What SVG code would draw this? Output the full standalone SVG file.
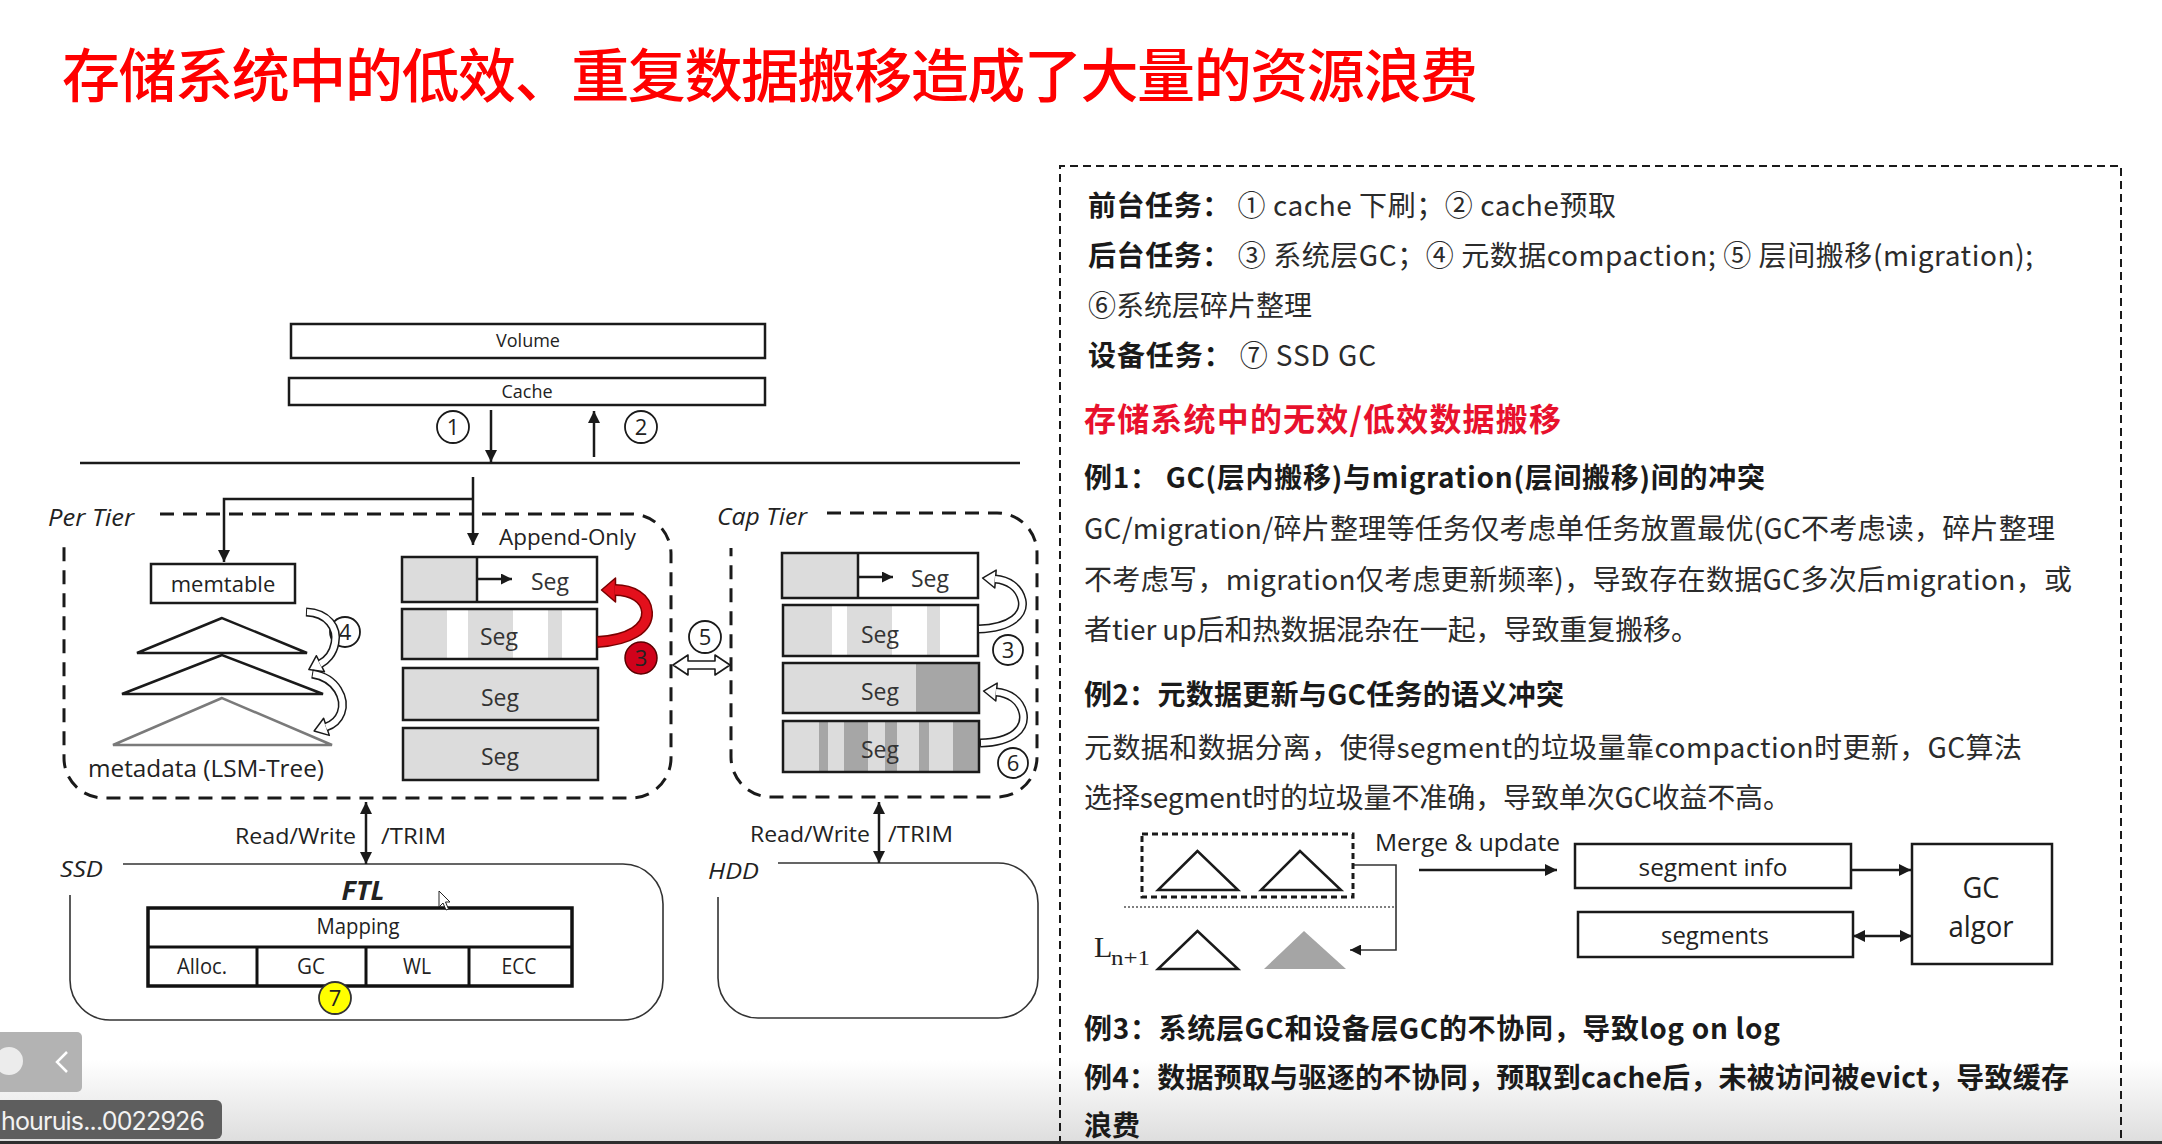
<svg xmlns="http://www.w3.org/2000/svg" width="2162" height="1144" viewBox="0 0 2162 1144">
  <defs>
    <style>
      .ln { fill: none; stroke: #1a1a1a; stroke-width: 2.5; }
      .thin { fill: none; stroke: #333; stroke-width: 1.6; }
      .box { fill: #fff; stroke: #1a1a1a; stroke-width: 2.5; }
      .frame { fill: none; stroke: #1a1a1a; stroke-width: 2.5; }
      .lt { fill: #dcdcdc; }
      .dk { fill: #a6a6a6; }
      .dash { fill: none; stroke: #1a1a1a; stroke-width: 3; stroke-dasharray: 14 9; }
      .circ { fill: #fff; stroke: #1a1a1a; stroke-width: 1.8; }
      .lbl { font-family: "Open Sans", "Liberation Sans", sans-serif; fill: #222; }
      .num { font-family: "Open Sans", "Liberation Sans", sans-serif; font-size: 22px; fill: #222; text-anchor: middle; }
      .seg { font-family: "Open Sans", "Liberation Sans", sans-serif; font-size: 23px; fill: #333; text-anchor: middle; }
      .cn { font-family: "Noto Sans CJK SC", "Noto Sans", sans-serif; font-size: 28px; fill: #2b2b2b; }
      .b { font-weight: bold; fill: #1a1a1a; }
      .hl { font-size: 32px; font-weight: bold; fill: #e8112d; }
      .rib-o { fill: none; stroke: #1a1a1a; stroke-width: 9; }
      .rib-i { fill: none; stroke: #fff; stroke-width: 6; }
    </style>
    <marker id="ah" viewBox="0 0 10 10" refX="10" refY="5" markerWidth="13" markerHeight="12" markerUnits="userSpaceOnUse" orient="auto-start-reverse">
      <path d="M0,0 L10,5 L0,10 z" fill="#1a1a1a"/>
    </marker>
    <marker id="ahs" viewBox="0 0 10 10" refX="10" refY="5" markerWidth="11" markerHeight="11" markerUnits="userSpaceOnUse" orient="auto-start-reverse">
      <path d="M0,0 L10,5 L0,10 z" fill="#1a1a1a"/>
    </marker>
    <marker id="hh" viewBox="0 0 13 18" refX="0.5" refY="9" markerWidth="13" markerHeight="18" markerUnits="userSpaceOnUse" orient="auto" overflow="visible">
      <path d="M0,0 L13,9 L0,18 z" fill="#fff" stroke="#1a1a1a" stroke-width="1.5" stroke-linejoin="round"/>
    </marker>
    <marker id="rh" viewBox="0 0 14 24" refX="0.5" refY="12" markerWidth="14" markerHeight="24" markerUnits="userSpaceOnUse" orient="auto" overflow="visible">
      <path d="M0,0 L14,12 L0,24 z" fill="#e3101c" stroke="#7a0000" stroke-width="1.5" stroke-linejoin="round"/>
    </marker>
    <linearGradient id="fade" x1="0" y1="0" x2="0" y2="1">
      <stop offset="0" stop-color="#ffffff"/>
      <stop offset="1" stop-color="#dedede"/>
    </linearGradient>
  </defs>

  <rect x="0" y="0" width="2162" height="1144" fill="#fff"/>
  <rect x="0" y="1060" width="2162" height="81" fill="url(#fade)"/>

  <!-- heading -->
  <text id="title" x="62" y="97" font-family="Noto Sans CJK SC, sans-serif" font-size="58" font-weight="500" fill="#ff0000" textLength="1416">存储系统中的低效、重复数据搬移造成了大量的资源浪费</text>

  <!-- ===== left: tiered storage stack ===== -->
  <g id="volume">
    <rect class="box" x="291" y="324" width="474" height="34"/>
    <text class="lbl" x="528" y="347" font-size="18" text-anchor="middle">Volume</text>
  </g>
  <g id="cache">
    <rect class="box" x="289" y="378" width="476" height="27"/>
    <text class="lbl" x="527" y="398" font-size="18" text-anchor="middle">Cache</text>
  </g>
  <g id="mark-1">
    <circle class="circ" cx="453" cy="427" r="16"/>
    <text class="num" x="453" y="435">1</text>
  </g>
  <g id="mark-2">
    <circle class="circ" cx="641" cy="427" r="16"/>
    <text class="num" x="641" y="435">2</text>
  </g>

  <g id="per-tier">
    <path class="dash" d="M160,514 H631 A40,40 0 0 1 671,554 V758 A40,40 0 0 1 631,798 H104 A40,40 0 0 1 64,758 V546"/>
    <text class="lbl" x="48" y="526" font-size="23" font-style="italic" textLength="86" lengthAdjust="spacingAndGlyphs">Per Tier</text>
    <text class="lbl" x="499" y="545" font-size="21" textLength="137" lengthAdjust="spacingAndGlyphs">Append-Only</text>
  </g>

  <g id="memtable">
    <rect class="box" x="151" y="564" width="144" height="39"/>
    <text class="lbl" x="223" y="592" font-size="22" text-anchor="middle">memtable</text>
  </g>

  <g id="lsm-tree">
    <polygon points="222,618 137,653 307,653" fill="#fff" stroke="#1a1a1a" stroke-width="2.5"/>
    <polygon points="222,655 122,694 323,694" fill="#fff" stroke="#1a1a1a" stroke-width="2.5"/>
    <polygon points="222,698 113,745 332,745" fill="#fff" stroke="#7a7a7a" stroke-width="2.5"/>
    <text class="lbl" x="88" y="777" font-size="23" textLength="236" lengthAdjust="spacingAndGlyphs">metadata (LSM-Tree)</text>
  </g>

  <g id="mark-4">
    <circle class="circ" cx="345" cy="632" r="15"/>
    <text class="num" x="345" y="640">4</text>
  </g>

  <!-- per tier segments -->
  <g id="pt-seg1">
    <rect class="lt" x="402" y="557" width="75" height="45"/>
    <rect class="frame" x="402" y="557" width="195" height="45"/>
    <line class="ln" x1="477" y1="557" x2="477" y2="602"/>
    <text class="seg" x="550" y="590">Seg</text>
  </g>
  <g id="pt-seg2">
    <rect x="402" y="609" width="195" height="50" fill="#fff"/>
    <rect class="lt" x="402" y="609" width="45" height="50"/>
    <rect class="lt" x="468" y="609" width="45" height="50"/>
    <rect class="lt" x="548" y="609" width="14" height="50"/>
    <rect class="frame" x="402" y="609" width="195" height="50"/>
    <text class="seg" x="499" y="645">Seg</text>
  </g>
  <g id="pt-seg3">
    <rect class="lt" x="403" y="668" width="195" height="52"/>
    <rect class="frame" x="403" y="668" width="195" height="52"/>
    <text class="seg" x="500" y="706">Seg</text>
  </g>
  <g id="pt-seg4">
    <rect class="lt" x="403" y="728" width="195" height="52"/>
    <rect class="frame" x="403" y="728" width="195" height="52"/>
    <text class="seg" x="500" y="765">Seg</text>
  </g>

  <g id="mark-3-red">
    <circle cx="641" cy="658" r="16" fill="#d0021b" stroke="#5a0000" stroke-width="1.5"/>
    <text class="num" x="641" y="666">3</text>
  </g>

  <g id="mark-5">
    <circle class="circ" cx="705" cy="637" r="16"/>
    <text class="num" x="705" y="645">5</text>
  </g>

  <!-- cap tier -->
  <g id="cap-tier">
    <path class="dash" d="M827,513 H997 A40,40 0 0 1 1037,553 V757 A40,40 0 0 1 997,797 H771 A40,40 0 0 1 731,757 V548"/>
    <text class="lbl" x="717" y="525" font-size="23" font-style="italic" textLength="90" lengthAdjust="spacingAndGlyphs">Cap Tier</text>
  </g>
  <g id="ct-seg1">
    <rect class="lt" x="782" y="553" width="76" height="45"/>
    <rect class="frame" x="782" y="553" width="196" height="45"/>
    <line class="ln" x1="858" y1="553" x2="858" y2="598"/>
    <text class="seg" x="930" y="587">Seg</text>
  </g>
  <g id="ct-seg2">
    <rect x="783" y="605" width="195" height="51" fill="#fff"/>
    <rect class="lt" x="783" y="605" width="49" height="51"/>
    <rect class="lt" x="847" y="605" width="45" height="51"/>
    <rect class="lt" x="927" y="605" width="13" height="51"/>
    <rect class="frame" x="783" y="605" width="195" height="51"/>
    <text class="seg" x="880" y="643">Seg</text>
  </g>
  <g id="ct-seg3">
    <rect class="lt" x="783" y="663" width="196" height="50"/>
    <rect class="dk" x="916" y="663" width="63" height="50"/>
    <rect class="frame" x="783" y="663" width="196" height="50"/>
    <text class="seg" x="880" y="700">Seg</text>
  </g>
  <g id="ct-seg4">
    <rect class="lt" x="783" y="721" width="196" height="51"/>
    <rect class="dk" x="819" y="721" width="9" height="51"/>
    <rect class="dk" x="844" y="721" width="24" height="51"/>
    <rect class="dk" x="885" y="721" width="12" height="51"/>
    <rect class="dk" x="919" y="721" width="10" height="51"/>
    <rect class="dk" x="953" y="721" width="26" height="51"/>
    <rect class="frame" x="783" y="721" width="196" height="51"/>
    <text class="seg" x="880" y="758">Seg</text>
  </g>
  <g id="mark-3">
    <circle class="circ" cx="1008" cy="650" r="15"/>
    <text class="num" x="1008" y="658">3</text>
  </g>
  <g id="mark-6">
    <circle class="circ" cx="1013" cy="763" r="15"/>
    <text class="num" x="1013" y="771">6</text>
  </g>

  <!-- I/O labels between tiers and devices -->
  <g id="io-labels">
    <text class="lbl" x="356" y="844" font-size="21" text-anchor="end" textLength="121" lengthAdjust="spacingAndGlyphs">Read/Write</text>
    <text class="lbl" x="381" y="844" font-size="21" textLength="65" lengthAdjust="spacingAndGlyphs">/TRIM</text>
    <text class="lbl" x="870" y="842" font-size="21" text-anchor="end" textLength="120" lengthAdjust="spacingAndGlyphs">Read/Write</text>
    <text class="lbl" x="888" y="842" font-size="21" textLength="65" lengthAdjust="spacingAndGlyphs">/TRIM</text>
  </g>

  <!-- devices -->
  <g id="ssd">
    <path class="thin" stroke-width="2.2" d="M123,864 H623 A40,40 0 0 1 663,904 V980 A40,40 0 0 1 623,1020 H110 A40,40 0 0 1 70,980 V895"/>
    <text class="lbl" x="60" y="877" font-size="22" font-style="italic" textLength="43" lengthAdjust="spacingAndGlyphs">SSD</text>
    <text class="lbl" x="363" y="900" font-size="26" font-weight="bold" font-style="italic" text-anchor="middle" textLength="43" lengthAdjust="spacingAndGlyphs">FTL</text>
  </g>
  <g id="ftl-table">
    <rect x="148" y="908" width="424" height="78" fill="#fff" stroke="#111" stroke-width="3.5"/>
    <line x1="148" y1="947" x2="572" y2="947" stroke="#111" stroke-width="3"/>
    <line x1="257" y1="947" x2="257" y2="986" stroke="#111" stroke-width="3"/>
    <line x1="366" y1="947" x2="366" y2="986" stroke="#111" stroke-width="3"/>
    <line x1="469" y1="947" x2="469" y2="986" stroke="#111" stroke-width="3"/>
    <text class="lbl" x="358" y="934" font-size="21" text-anchor="middle" textLength="83" lengthAdjust="spacingAndGlyphs">Mapping</text>
    <text class="lbl" x="202" y="974" font-size="21" text-anchor="middle" textLength="50" lengthAdjust="spacingAndGlyphs">Alloc.</text>
    <text class="lbl" x="311" y="974" font-size="21" text-anchor="middle" textLength="28" lengthAdjust="spacingAndGlyphs">GC</text>
    <text class="lbl" x="417" y="974" font-size="21" text-anchor="middle" textLength="28" lengthAdjust="spacingAndGlyphs">WL</text>
    <text class="lbl" x="519" y="974" font-size="21" text-anchor="middle" textLength="35" lengthAdjust="spacingAndGlyphs">ECC</text>
  </g>
  <g id="mark-7">
    <circle cx="335" cy="998" r="16" fill="#ffff00" stroke="#333" stroke-width="1.8"/>
    <text class="num" x="335" y="1006">7</text>
  </g>
  <g id="hdd">
    <path class="thin" stroke-width="2.2" d="M778,863 H998 A40,40 0 0 1 1038,903 V978 A40,40 0 0 1 998,1018 H758 A40,40 0 0 1 718,978 V897"/>
    <text class="lbl" x="708" y="879" font-size="22" font-style="italic" textLength="51" lengthAdjust="spacingAndGlyphs">HDD</text>
  </g>

  <!-- pointer -->
  <polygon id="pointer" points="439,891 439,907 443,903 446,910 448.5,909 445.5,902 450,902" fill="#fff" stroke="#222" stroke-width="1"/>

  <!-- connectors -->
  <g id="connectors">
    <path class="ln" d="M491,410 V462" marker-end="url(#ah)"/>
    <path class="ln" d="M594,457 V411" marker-end="url(#ah)"/>
    <path class="ln" d="M80,463 H1020"/>
    <path class="ln" d="M473,477 V545" marker-end="url(#ah)"/>
    <path class="ln" d="M473,499 H224 V562" marker-end="url(#ah)"/>
    <path class="ln" d="M477,579 H512" marker-end="url(#ahs)"/>
    <path class="ln" d="M858,577 H893" marker-end="url(#ahs)"/>
    <path class="ln" d="M366,802 V864" marker-start="url(#ah)" marker-end="url(#ah)"/>
    <path class="ln" d="M879,802 V863" marker-start="url(#ah)" marker-end="url(#ah)"/>

    <!-- compaction arrows (4) -->
    <path class="rib-o" d="M306,612 C328,613 338,628 335,643 C333,654 326,661 320,664" marker-end="url(#hh)"/>
    <path class="rib-i" d="M307,612 C328,613 338,628 335,643 C333,654 326,661 320,664"/>
    <path class="rib-o" d="M312,674 C337,678 346,699 341,713 C338,721 332,725 326,727" marker-end="url(#hh)"/>
    <path class="rib-i" d="M313,674 C337,678 346,699 341,713 C338,721 332,725 326,727"/>

    <!-- system GC in per tier (3, red) -->
    <path fill="none" stroke="#7a0000" stroke-width="12" d="M597,642 C630,640 648,628 647,612 C646,598 632,590 615,590" marker-end="url(#rh)"/>
    <path fill="none" stroke="#e3101c" stroke-width="9" d="M598,642 C630,640 648,628 647,612 C646,598 632,590 615,590"/>

    <!-- system GC / defrag in cap tier (3, 6) -->
    <path class="rib-o" d="M978,629 C1012,628 1025,614 1022,600 C1019,587 1008,580 995,579" marker-end="url(#hh)"/>
    <path class="rib-i" d="M979,629 C1012,628 1025,614 1022,600 C1019,587 1008,580 995,579"/>
    <path class="rib-o" d="M980,743 C1014,742 1026,728 1023,713 C1020,700 1009,693 996,692" marker-end="url(#hh)"/>
    <path class="rib-i" d="M981,743 C1014,742 1026,728 1023,713 C1020,700 1009,693 996,692"/>

    <!-- migration between tiers (5) -->
    <polygon points="673,665 688,655 688,661 715,661 715,655 730,665 715,675 715,669 688,669 688,675" fill="#fff" stroke="#1a1a1a" stroke-width="1.6" stroke-linejoin="round"/>

    <!-- metadata / GC flow -->
    <path class="thin" d="M1353,865 H1396 V950 H1350" marker-end="url(#ahs)"/>
    <path class="ln" stroke-width="2" d="M1419,870 H1557" marker-end="url(#ah)"/>
    <path class="ln" stroke-width="2" d="M1851,870 H1911" marker-end="url(#ah)"/>
    <path class="ln" stroke-width="2" d="M1853,936 H1912" marker-start="url(#ah)" marker-end="url(#ah)"/>
  </g>

  <!-- ===== right: notes panel ===== -->
  <path id="notes-frame" d="M1060,1144 V166 H2121 V1144" fill="none" stroke="#1a1a1a" stroke-width="2" stroke-dasharray="8 5"/>

  <g id="notes-tasks">
    <text class="cn" x="1088" y="216" textLength="528"><tspan class="b">前台任务：</tspan> ① cache 下刷；② cache预取</text>
    <text class="cn" x="1088" y="266" textLength="945"><tspan class="b">后台任务：</tspan> ③ 系统层GC；④ 元数据compaction; ⑤ 层间搬移(migration);</text>
    <text class="cn" x="1088" y="316">⑥系统层碎片整理</text>
    <text class="cn" x="1088" y="366" textLength="288"><tspan class="b">设备任务：</tspan> ⑦ SSD GC</text>
    <text class="cn hl" x="1084" y="431" textLength="477">存储系统中的无效/低效数据搬移</text>
  </g>

  <g id="notes-examples">
    <text class="cn b" x="1084" y="488" textLength="681">例1：  GC(层内搬移)与migration(层间搬移)间的冲突</text>
    <text class="cn" x="1084" y="539" textLength="971">GC/migration/碎片整理等任务仅考虑单任务放置最优(GC不考虑读，碎片整理</text>
    <text class="cn" x="1084" y="590" textLength="988">不考虑写，migration仅考虑更新频率)，导致存在数据GC多次后migration，或</text>
    <text class="cn" x="1084" y="640" textLength="615">者tier up后和热数据混杂在一起，导致重复搬移。</text>
    <text class="cn b" x="1084" y="705" textLength="480">例2：元数据更新与GC任务的语义冲突</text>
    <text class="cn" x="1084" y="758" textLength="938">元数据和数据分离，使得segment的垃圾量靠compaction时更新，GC算法</text>
    <text class="cn" x="1084" y="808" textLength="707">选择segment时的垃圾量不准确，导致单次GC收益不高。</text>
    <text class="cn b" x="1084" y="1039" textLength="696">例3：系统层GC和设备层GC的不协同，导致log on log</text>
    <text class="cn b" x="1084" y="1088" textLength="985">例4：数据预取与驱逐的不协同，预取到cache后，未被访问被evict，导致缓存</text>
    <text class="cn b" x="1084" y="1136">浪费</text>
  </g>

  <g id="merge-group">
    <rect x="1142" y="834" width="211" height="63" fill="none" stroke="#1a1a1a" stroke-width="3" stroke-dasharray="6 4"/>
    <polygon points="1197.5,851 1158,890 1238,890" fill="#fff" stroke="#1a1a1a" stroke-width="2.5"/>
    <polygon points="1300,851 1261,890 1341,890" fill="#fff" stroke="#1a1a1a" stroke-width="2.5"/>
    <line x1="1124" y1="907" x2="1397" y2="907" stroke="#555" stroke-width="1.5" stroke-dasharray="2 2"/>
    <text class="lbl" x="1375" y="851" font-size="24" textLength="185" lengthAdjust="spacingAndGlyphs">Merge &amp; update</text>
  </g>
  <g id="level-n1">
    <text x="1094" y="957" font-family="Liberation Serif, serif" font-size="30" fill="#222">L</text>
    <text x="1111" y="965" font-family="Liberation Serif, serif" font-size="22" fill="#222" textLength="39" lengthAdjust="spacingAndGlyphs">n+1</text>
    <polygon points="1197.5,931 1158,969 1238,969" fill="#fff" stroke="#1a1a1a" stroke-width="2.5"/>
    <polygon points="1304,931 1264,969 1346,969" fill="#a5a5a5"/>
  </g>
  <g id="segment-info">
    <rect class="box" x="1575" y="844" width="276" height="44"/>
    <text class="lbl" x="1713" y="876" font-size="24" text-anchor="middle" textLength="149" lengthAdjust="spacingAndGlyphs">segment info</text>
  </g>
  <g id="segments">
    <rect class="box" x="1578" y="912" width="275" height="45"/>
    <text class="lbl" x="1715" y="944" font-size="24" text-anchor="middle" textLength="108" lengthAdjust="spacingAndGlyphs">segments</text>
  </g>
  <g id="gc-algor">
    <rect class="box" x="1912" y="844" width="140" height="120"/>
    <text class="lbl" x="1981" y="898" font-size="30" text-anchor="middle" textLength="37" lengthAdjust="spacingAndGlyphs">GC</text>
    <text class="lbl" x="1981" y="937" font-size="30" text-anchor="middle" textLength="65" lengthAdjust="spacingAndGlyphs">algor</text>
  </g>

  <!-- player chrome along the bottom edge -->
  <g id="player-controls">
    <rect x="-6" y="1032" width="88" height="60" rx="5" fill="#b3b3b3"/>
    <circle cx="9" cy="1061" r="14" fill="#ececec"/>
    <polyline points="67,1052 57,1062 67,1072" fill="none" stroke="#fff" stroke-width="2.5"/>
    <rect x="-6" y="1100" width="228" height="39" rx="6" fill="#5e5e5e"/>
    <text x="1" y="1130" font-family="Inter, Roboto, sans-serif" font-size="25" fill="#f2f2f2" textLength="204">houruis...0022926</text>
  </g>
  <rect x="0" y="1141" width="2162" height="3" fill="#2e2e2e"/>
</svg>
